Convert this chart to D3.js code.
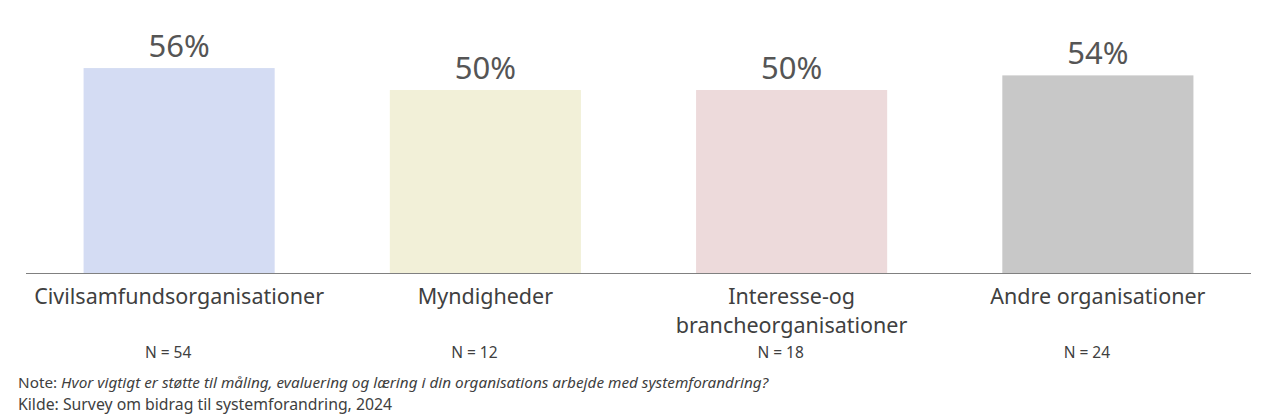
<!DOCTYPE html>
<html><head><meta charset="utf-8">
<script src="https://cdn.jsdelivr.net/npm/d3@7"></script>
<style>body{margin:0;background:#fff;} svg{display:block;}</style>
</head><body>
<svg id="chart" width="1268" height="418"></svg>
<script>
const categories = ["Civilsamfundsorganisationer", "Myndigheder", "Interesse-og\nbrancheorganisationer", "Andre organisationer"];
const values = [56, 50, 50, 54];
const valueLabels = ["56%", "50%", "50%", "54%"];
const nLabels = ["N = 54", "N = 12", "N = 18", "N = 24"];
const colors = ["#d4dcf3", "#f2f0d8", "#eddadb", "#c8c8c8"];
const noteLabel = "Note: ";
const noteText = "Hvor vigtigt er støtte til måling, evaluering og læring i din organisations arbejde med systemforandring?";
const sourceText = "Kilde: Survey om bidrag til systemforandring, 2024";

const svg = d3.select("#chart");
const font = "'Noto Sans', 'Open Sans', sans-serif";
const baseY = 273;

const x = d3.scaleBand().domain(categories).range([26, 1251]).paddingInner(0.376).paddingOuter(0.188);
const y = d3.scaleLinear().domain([0, 74.6]).range([baseY, 0]);

svg.selectAll("rect.bar").data(categories).join("rect")
  .attr("class", "bar")
  .attr("x", d => x(d))
  .attr("width", x.bandwidth())
  .attr("y", (d, i) => y(values[i]))
  .attr("height", (d, i) => baseY - y(values[i]))
  .attr("fill", (d, i) => colors[i]);

svg.selectAll("text.val").data(categories).join("text")
  .attr("class", "val")
  .attr("x", d => x(d) + x.bandwidth() / 2)
  .attr("y", (d, i) => y(values[i]) - 11)
  .attr("text-anchor", "middle")
  .attr("font-family", font)
  .attr("font-size", 31)
  .attr("fill", "#555")
  .text((d, i) => valueLabels[i]);

svg.append("line").attr("x1", 26).attr("x2", 1251).attr("y1", baseY + 0.5).attr("y2", baseY + 0.5)
  .attr("stroke", "#808080").attr("stroke-width", 1);

const catG = svg.selectAll("text.cat").data(categories).join("text")
  .attr("class", "cat")
  .attr("x", d => x(d) + x.bandwidth() / 2)
  .attr("y", 304)
  .attr("text-anchor", "middle")
  .attr("font-family", font)
  .attr("font-size", 21.5)
  .attr("fill", "#404040");
catG.each(function(d) {
  const lines = d.split("\n");
  const t = d3.select(this);
  lines.forEach((l, j) => {
    t.append("tspan").attr("x", x(d) + x.bandwidth() / 2).attr("dy", j === 0 ? 0 : 29).text(l);
  });
});

svg.selectAll("text.n").data(categories).join("text")
  .attr("class", "n")
  .attr("x", d => x(d) + x.bandwidth() / 2 - 11)
  .attr("y", 358)
  .attr("text-anchor", "middle")
  .attr("font-family", font)
  .attr("font-size", 15.5)
  .attr("fill", "#404040")
  .text((d, i) => nLabels[i]);

const note = svg.append("text").attr("x", 18).attr("y", 388)
  .attr("font-family", font).attr("font-size", 15.3).attr("fill", "#404040");
note.append("tspan").text(noteLabel);
note.append("tspan").attr("font-style", "italic").text(noteText);

svg.append("text").attr("x", 18).attr("y", 410)
  .attr("font-family", font).attr("font-size", 15.8).attr("fill", "#404040")
  .text(sourceText);
</script>
</body></html>
